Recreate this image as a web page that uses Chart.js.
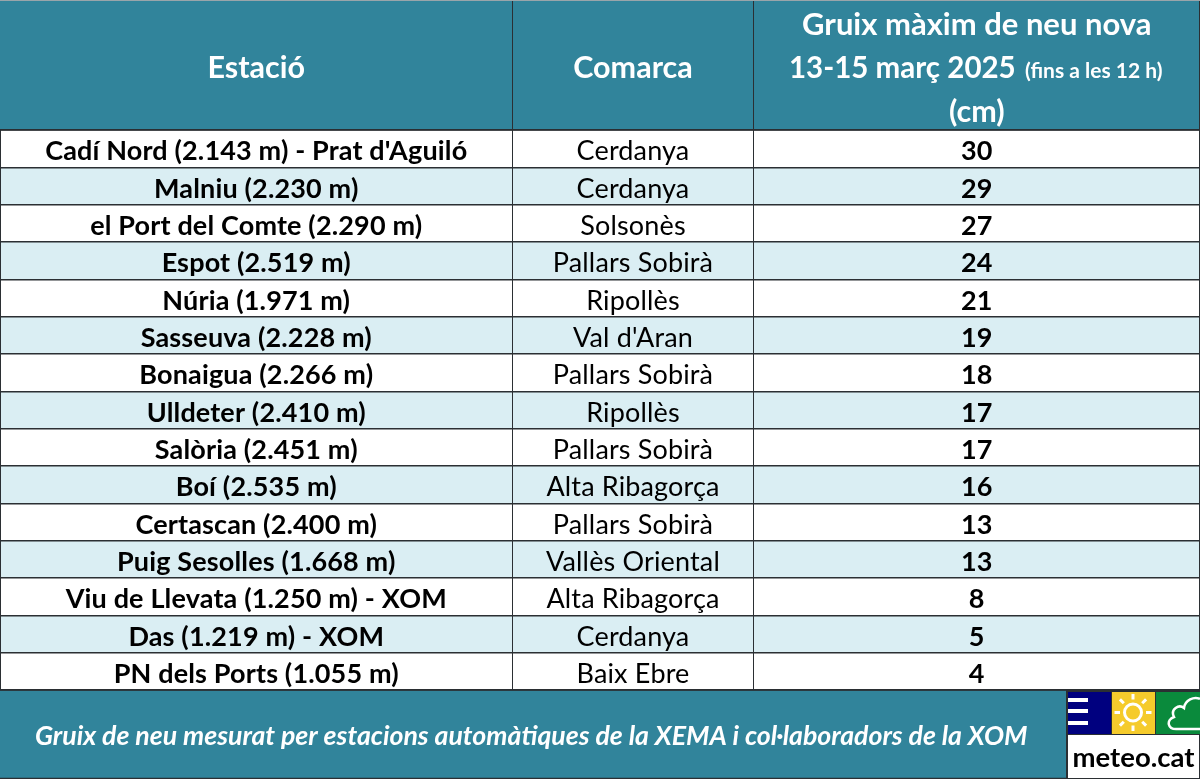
<!DOCTYPE html>
<html>
<head>
<meta charset="utf-8">
<script src="https://cdn.jsdelivr.net/npm/chart.js@4"></script>
<style>
    html, body { margin: 0; padding: 0; background: #fff; }
    #wrap { width: 1200px; height: 779px; }
</style>
</head>
<body>
<div id="wrap"><canvas id="table"></canvas></div>
<script>
const stations = ["Cadí Nord (2.143 m) - Prat d'Aguiló", 'Malniu (2.230 m)', 'el Port del Comte (2.290 m)', 'Espot (2.519 m)', 'Núria (1.971 m)', 'Sasseuva (2.228 m)', 'Bonaigua (2.266 m)', 'Ulldeter (2.410 m)', 'Salòria (2.451 m)', 'Boí (2.535 m)', 'Certascan (2.400 m)', 'Puig Sesolles (1.668 m)', 'Viu de Llevata (1.250 m) - XOM', 'Das (1.219 m) - XOM', 'PN dels Ports (1.055 m)'];
const comarques = ['Cerdanya', 'Cerdanya', 'Solsonès', 'Pallars Sobirà', 'Ripollès', "Val d'Aran", 'Pallars Sobirà', 'Ripollès', 'Pallars Sobirà', 'Alta Ribagorça', 'Pallars Sobirà', 'Vallès Oriental', 'Alta Ribagorça', 'Cerdanya', 'Baix Ebre'];
const gruix = [30, 29, 27, 24, 21, 19, 18, 17, 17, 16, 13, 13, 8, 5, 4];
const columnEdges = [0, 512.5, 753.5, 1200];
const headers = ['Estació', 'Comarca'];
const footerText = 'Gruix de neu mesurat per estacions automàtiques de la XEMA i col·laboradors de la XOM';

const TEAL = '#31849b', PALE = '#daeef3', LINE = '#2b2f33';
const FONT = 'Lato';
const HEAD_H = 130, FOOT_H = 89;

const colMid = (x, i) => x.getPixelForValue((columnEdges[i] + columnEdges[i + 1]) / 2);

const write = (ctx, text, px, py, font, color, align = 'center') => {
    ctx.font = font;
    ctx.fillStyle = color;
    ctx.textAlign = align;
    ctx.textBaseline = 'middle';
    ctx.fillText(text, px, py);
};

const drawLogo = ctx => {
    ctx.fillStyle = LINE;
    ctx.fillRect(1066, 690, 134, 89);
    ctx.fillStyle = '#fff';
    ctx.fillRect(1068, 735, 131, 43);
    ctx.fillStyle = '#00007f';
    ctx.fillRect(1068, 692, 43, 42);
    ctx.fillStyle = '#f5cb2c';
    ctx.fillRect(1112, 692, 43, 42);
    ctx.fillStyle = '#0a8a3c';
    ctx.fillRect(1156, 692, 44, 42);

    // menu bars
    ctx.fillStyle = '#fff';
    [698, 709, 721].forEach(y => ctx.fillRect(1068, y, 20, 4));

    // sun
    ctx.strokeStyle = '#fff';
    ctx.lineWidth = 3;
    ctx.beginPath();
    ctx.arc(1133, 712.5, 8.5, 0, Math.PI * 2);
    ctx.stroke();
    for (let a = 0; a < 8; a++) {
        const c = Math.cos(a * Math.PI / 4), s = Math.sin(a * Math.PI / 4);
        ctx.beginPath();
        ctx.moveTo(1133 + c * 13, 712.5 + s * 13);
        ctx.lineTo(1133 + c * 18.5, 712.5 + s * 18.5);
        ctx.stroke();
    }

    // cloud
    ctx.lineWidth = 2.5;
    ctx.beginPath();
    ctx.moveTo(1200, 729);
    ctx.lineTo(1178, 729);
    ctx.bezierCurveTo(1167, 730, 1166, 720, 1174, 717);
    ctx.bezierCurveTo(1170, 709, 1179, 704, 1184, 708);
    ctx.bezierCurveTo(1185, 700, 1194, 696, 1200, 699);
    ctx.stroke();

    write(ctx, 'meteo.cat', 1133.5, 758, `bold 27.5px ${FONT}`, '#000');
};

const tablePlugin = {
    id: 'tablePlugin',
    beforeDatasetsDraw(chart) {
        const { ctx, width, height, chartArea: { top, bottom } } = chart;
        ctx.save();
        ctx.fillStyle = TEAL;
        ctx.fillRect(0, 0, width, top);
        ctx.fillRect(0, bottom, width, height - bottom);
        ctx.restore();
    },
    afterDraw(chart) {
        const { ctx, width, height, chartArea: { top, bottom } } = chart;
        const { x, y } = chart.scales;
        ctx.save();

        // header and footer rules
        ctx.strokeStyle = LINE;
        ctx.lineWidth = 1.5;
        [top, bottom, height - 0.5].forEach(py => {
            ctx.beginPath();
            ctx.moveTo(0, py);
            ctx.lineTo(width, py);
            ctx.stroke();
        });
        ctx.lineWidth = 1;
        columnEdges.slice(1, 3).forEach(v => {
            ctx.beginPath();
            ctx.moveTo(x.getPixelForValue(v), 0);
            ctx.lineTo(x.getPixelForValue(v), top);
            ctx.stroke();
        });
        ctx.beginPath();
        ctx.moveTo(width - 0.5, 0);
        ctx.lineTo(width - 0.5, bottom);
        ctx.stroke();
        ctx.strokeStyle = '#9aa5aa';
        ctx.beginPath();
        ctx.moveTo(0, 0.5);
        ctx.lineTo(width, 0.5);
        ctx.stroke();

        // header
        const headFont = `bold 30.5px ${FONT}`;
        headers.forEach((h, i) => write(ctx, h, colMid(x, i), 68, headFont, '#fff'));
        write(ctx, 'Gruix màxim de neu nova', colMid(x, 2), 25, `bold 31px ${FONT}`, '#fff');
        write(ctx, '13-15 març 2025', 789, 68, `bold 29.5px ${FONT}`, '#fff', 'left');
        write(ctx, '(fins a les 12 h)', 1025, 71, `bold 21px ${FONT}`, '#fff', 'left');
        write(ctx, '(cm)', colMid(x, 2), 112, headFont, '#fff');

        // body cells
        ctx.letterSpacing = '0.15px';
        stations.forEach((s, i) => {
            const py = y.getPixelForValue(i) + 3;
            write(ctx, s, colMid(x, 0), py, `bold 27px ${FONT}`, '#000');
            write(ctx, comarques[i], colMid(x, 1), py, `27px ${FONT}`, '#000');
            write(ctx, String(gruix[i]), colMid(x, 2), py, `bold 27px ${FONT}`, '#000');
        });
        ctx.letterSpacing = '0px';

        // footer
        write(ctx, footerText, 35, 736, `italic bold 26.7px ${FONT}`, '#fff', 'left');
        drawLogo(ctx);
        ctx.restore();
    }
};

// one floating bar per cell, rows take the alternating fill
const rowFill = stations.map((_, i) => i % 2 ? PALE : '#ffffff');
const datasets = columnEdges.slice(0, 3).map((start, c) => ({
    data: stations.map(() => [start, columnEdges[c + 1]]),
    backgroundColor: rowFill,
    borderWidth: 0,
    barPercentage: 1,
    categoryPercentage: 1,
    grouped: false
}));

new Chart(document.getElementById('table'), {
    type: 'bar',
    data: { labels: stations, datasets },
    options: {
        indexAxis: 'y',
        responsive: true,
        maintainAspectRatio: false,
        animation: false,
        layout: { padding: { top: HEAD_H, bottom: FOOT_H, left: 0, right: 0 } },
        plugins: { legend: { display: false }, tooltip: { enabled: false } },
        scales: {
            x: {
                type: 'linear',
                min: 0,
                max: 1200,
                afterBuildTicks: axis => { axis.ticks = columnEdges.map(value => ({ value })); },
                ticks: { display: false },
                border: { display: false },
                grid: { color: LINE, lineWidth: 1, drawTicks: false, z: 1 }
            },
            y: {
                type: 'category',
                ticks: { display: false },
                border: { display: false },
                grid: { color: LINE, lineWidth: 1.5, drawTicks: false, offset: true, z: 1 }
            }
        }
    },
    plugins: [tablePlugin]
});
</script>
</body>
</html>
